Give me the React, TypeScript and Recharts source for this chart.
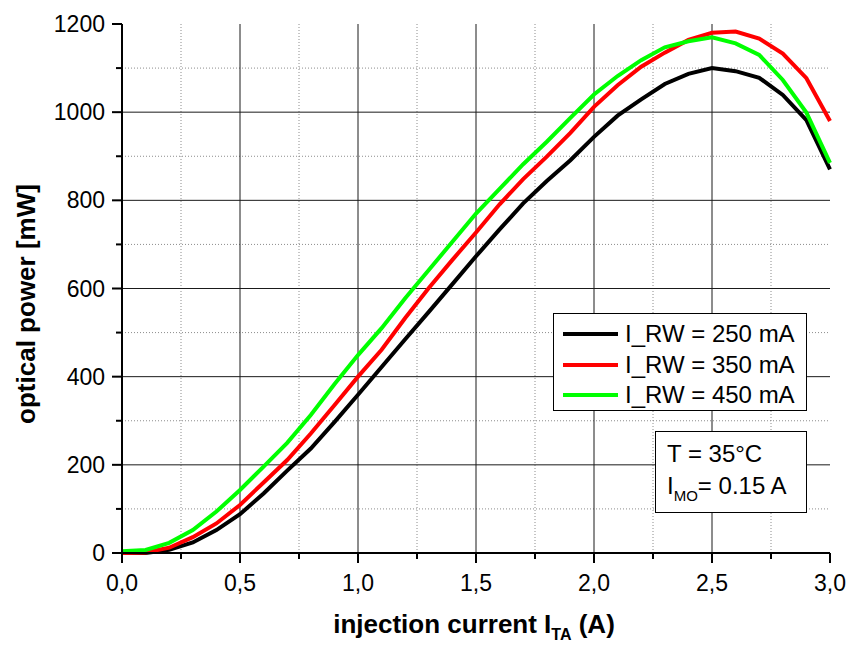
import React from "react";
import { LineChart, Line, XAxis, YAxis, CartesianGrid, Label } from "recharts";

const currents = [0, 0.1, 0.2, 0.3, 0.4, 0.5, 0.6, 0.7, 0.8, 0.9, 1.0, 1.1, 1.2, 1.3, 1.4, 1.5, 1.6, 1.7, 1.8, 1.9, 2.0, 2.1, 2.2, 2.3, 2.4, 2.5, 2.6, 2.7, 2.8, 2.9, 3.0];
const rw250 = [0, 0, 7, 24, 52, 88, 135, 187, 237, 297, 359, 422, 485, 547, 610, 673, 734, 793, 844, 891, 944, 992, 1029, 1064, 1087, 1100, 1093, 1078, 1039, 982, 870];
const rw350 = [0, 1, 12, 36, 67, 109, 160, 211, 271, 335, 400, 461, 533, 601, 665, 727, 791, 848, 899, 953, 1012, 1061, 1103, 1135, 1164, 1180, 1183, 1167, 1133, 1077, 980];
const rw450 = [4, 7, 23, 52, 94, 143, 196, 250, 313, 383, 449, 510, 578, 642, 706, 770, 826, 882, 933, 987, 1040, 1082, 1118, 1147, 1161, 1170, 1156, 1130, 1073, 999, 885];

const seriesNames = ["I_RW = 250 mA", "I_RW = 350 mA", "I_RW = 450 mA"];
const seriesColors = ["#000000", "#ff0000", "#00ff00"];

const xTicks = [0, 0.25, 0.5, 0.75, 1, 1.25, 1.5, 1.75, 2, 2.25, 2.5, 2.75, 3];
const yTicks = [0, 100, 200, 300, 400, 500, 600, 700, 800, 900, 1000, 1100, 1200];
const xMajorGrid = [0.5, 1, 1.5, 2, 2.5];
const xMinorGrid = [0.25, 0.75, 1.25, 1.75, 2.25, 2.75];
const yMajorGrid = [200, 400, 600, 800, 1000];
const yMinorGrid = [100, 300, 500, 700, 900, 1100];

const data = currents.map((c, i) => ({ x: c, a: rw250[i], b: rw350[i], c: rw450[i] }));

const FONT = "Arial, 'Liberation Sans', sans-serif";

const isMajorX = (v: number) => Math.abs(v * 2 - Math.round(v * 2)) < 1e-6;
const isMajorY = (v: number) => Math.abs(v / 200 - Math.round(v / 200)) < 1e-6;

const XTick = (props: any) => {
  const { x, y, payload } = props;
  const v = payload.value as number;
  const major = isMajorX(v);
  return (
    <g>
      <line x1={x} x2={x} y1={y} y2={y + (major ? 10 : 6)} stroke="#000" strokeWidth={2} />
      {major && (
        <text x={x} y={y + 38} textAnchor="middle" fontSize={23} fontFamily={FONT} fill="#000">
          {v.toFixed(1).replace(".", ",")}
        </text>
      )}
    </g>
  );
};

const YTick = (props: any) => {
  const { x, y, payload } = props;
  const v = payload.value as number;
  const major = isMajorY(v);
  return (
    <g>
      <line x1={x - (major ? 10 : 6)} x2={x} y1={y} y2={y} stroke="#000" strokeWidth={2} />
      {major && (
        <text x={x - 17} y={y + 8} textAnchor="end" fontSize={23} fontFamily={FONT} fill="#000">
          {v}
        </text>
      )}
    </g>
  );
};

const scaleOf = (axis: any) => (v: number) => {
  const s = axis && axis.scale;
  if (typeof s === "function") return s(v);
  if (s && typeof s.map === "function") return s.map(v);
  return 0;
};

const genX = (vals: number[]) => (p: any) => vals.map(scaleOf(p.xAxis));
const genY = (vals: number[]) => (p: any) => vals.map(scaleOf(p.yAxis));

const YTitle = () => {
  const cx = 26;
  const cy = 304;
  return (
    <text
      x={cx}
      y={cy}
      transform={`rotate(-90, ${cx}, ${cy})`}
      textAnchor="middle"
      dominantBaseline="central"
      fontSize={26}
      fontWeight="bold"
      fontFamily={FONT}
      fill="#000"
    >
      optical power [mW]
    </text>
  );
};

const XTitle = () => (
  <text x={474} y={633} textAnchor="middle" fontSize={26} fontWeight="bold" fontFamily={FONT} fill="#000">
    <tspan>injection current I</tspan>
    <tspan fontSize={16} dy={7}>TA</tspan>
    <tspan dy={-7}> (A)</tspan>
  </text>
);

export default function App() {
  return (
    <div style={{ position: "relative", width: 848, height: 646, background: "#fff" }}>
      <style>{`body{margin:0;background:#fff}`}</style>
      <LineChart width={848} height={646} data={data} margin={{ top: 24, right: 18, bottom: 0, left: 0 }}>
        <CartesianGrid
          horizontalCoordinatesGenerator={genY(yMinorGrid)}
          verticalCoordinatesGenerator={genX(xMinorGrid)}
          stroke="#8c8c8c"
          strokeDasharray="1 2"
          strokeWidth={1}
        />
        <CartesianGrid
          horizontalCoordinatesGenerator={genY(yMajorGrid)}
          verticalCoordinatesGenerator={genX(xMajorGrid)}
          stroke="#1a1a1a"
          strokeWidth={1}
        />
        <XAxis
          dataKey="x"
          type="number"
          domain={[0, 3]}
          ticks={xTicks}
          interval={0}
          height={93}
          tickSize={0}
          tickMargin={0}
          tickLine={false}
          axisLine={{ stroke: "#000", strokeWidth: 2 }}
          tick={<XTick />}
        >
          <Label content={<XTitle />} />
        </XAxis>
        <YAxis
          type="number"
          domain={[0, 1200]}
          ticks={yTicks}
          interval={0}
          width={122}
          tickSize={0}
          tickMargin={0}
          tickLine={false}
          axisLine={{ stroke: "#000", strokeWidth: 2 }}
          tick={<YTick />}
        >
          <Label content={<YTitle />} />
        </YAxis>
        <Line type="linear" dataKey="a" name={seriesNames[0]} stroke={seriesColors[0]} strokeWidth={4} dot={false} isAnimationActive={false} />
        <Line type="linear" dataKey="b" name={seriesNames[1]} stroke={seriesColors[1]} strokeWidth={4} dot={false} isAnimationActive={false} />
        <Line type="linear" dataKey="c" name={seriesNames[2]} stroke={seriesColors[2]} strokeWidth={4} dot={false} isAnimationActive={false} />
      </LineChart>
      <div
        style={{
          position: "absolute",
          left: 553,
          top: 313,
          width: 252,
          height: 96,
          border: "1px solid #000",
          background: "#fff",
          fontFamily: FONT,
          fontSize: 24,
          color: "#000",
        }}
      >
        {seriesNames.map((n, i) => (
          <div key={n} style={{ position: "absolute", left: 0, top: 5 + i * 30.5, height: 30, width: 252 }}>
            <svg width={60} height={30} style={{ position: "absolute", left: 9, top: 0 }}>
              <line x1={0} x2={55} y1={15} y2={15} stroke={seriesColors[i]} strokeWidth={4} />
            </svg>
            <span style={{ position: "absolute", left: 71, top: 0, lineHeight: "30px", whiteSpace: "nowrap" }}>{n}</span>
          </div>
        ))}
      </div>
      <div
        style={{
          position: "absolute",
          left: 655,
          top: 431,
          width: 150,
          height: 80,
          border: "1px solid #000",
          background: "#fff",
          fontFamily: FONT,
          fontSize: 24,
          color: "#000",
        }}
      >
        <div style={{ position: "absolute", left: 11, top: 8, whiteSpace: "nowrap", lineHeight: "28px" }}>T = 35°C</div>
        <div style={{ position: "absolute", left: 11, top: 40, whiteSpace: "nowrap", lineHeight: "28px" }}>
          I<sub style={{ fontSize: 15, verticalAlign: "-7px" }}>MO</sub>= 0.15 A
        </div>
      </div>
    </div>
  );
}
